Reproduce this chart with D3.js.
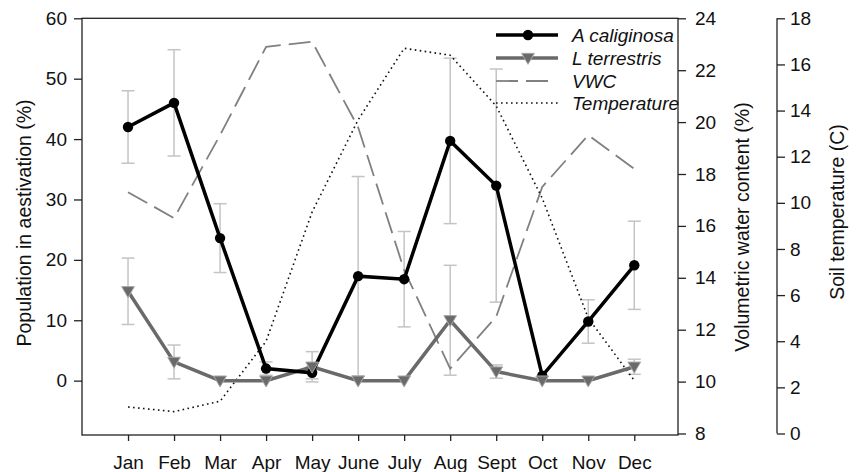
<!DOCTYPE html>
<html>
<head>
<meta charset="utf-8">
<script src="https://cdn.jsdelivr.net/npm/d3@7"></script>
<style>
  html, body { margin: 0; padding: 0; background: #fff; }
  svg { display: block; font-family: "Liberation Sans", Arial, sans-serif; }
</style>
</head>
<body>
<svg id="chart" width="861" height="472"></svg>
<script>
// Monthly aestivation of two earthworm species with soil moisture and temperature
const months = ["Jan", "Feb", "Mar", "Apr", "May", "June", "July", "Aug", "Sept", "Oct", "Nov", "Dec"];
const aCaliginosa = [42, 46, 23.6, 2, 1.3, 17.3, 16.8, 39.7, 32.3, 0.8, 9.8, 19.1];
const aCaliginosaErr = [6, 8.8, 5.7, 1.1, 1, 16.5, 7.9, 13.7, 19.3, 0, 3.6, 7.3];
const lTerrestris = [14.8, 3.1, 0, 0, 2.3, 0, 0, 10, 1.5, 0, 0, 2.3];
const lTerrestrisErr = [5.5, 2.8, 0, 0, 2.5, 0, 0, 9.1, 1.1, 0, 0, 1.25];
const vwc = [17.3, 16.3, 19.5, 22.9, 23.1, 19.8, 14.3, 10.5, 12.5, 17.5, 19.5, 18.2];
const temperature = [1.15, 0.95, 1.4, 4.0, 9.6, 13.6, 16.7, 16.4, 14.2, 10.2, 5.0, 2.3];

const popTicks = [0, 10, 20, 30, 40, 50, 60];
const vwcTicks = [8, 10, 12, 14, 16, 18, 20, 22, 24];
const tempTicks = [0, 2, 4, 6, 8, 10, 12, 14, 16, 18];

const svg = d3.select("#chart");
const box = { left: 82, right: 678, top: 18.3, bottom: 435 };
const idx = months.map((m, i) => i + 1);

const x = d3.scaleLinear().domain([0, 12.95]).range([box.left, box.right]);
const yPop = d3.scaleLinear().domain([-9, 60]).range([box.bottom, box.top]);
const yVwc = d3.scaleLinear().domain([8, 24]).range([433.5, box.top]);
const yTemp = d3.scaleLinear().domain([0, 18]).range([433.5, box.top]);

const fontSize = 19;

// Frame
svg.append("rect")
  .attr("x", box.left).attr("y", box.top)
  .attr("width", box.right - box.left).attr("height", box.bottom - box.top)
  .attr("fill", "none").attr("stroke", "#222").attr("stroke-width", 1.3);

function styleAxis(g) {
  g.select(".domain").remove();
  g.selectAll(".tick line").attr("stroke", "#222").attr("stroke-width", 1.3);
  g.selectAll(".tick text").attr("fill", "#111").style("font-size", fontSize + "px");
}

// Left axis: population
svg.append("g").attr("transform", `translate(${box.left},0)`)
  .call(d3.axisLeft(yPop).tickValues(popTicks).tickSize(8).tickPadding(7))
  .call(styleAxis);

// Bottom axis: months
svg.append("g").attr("transform", `translate(0,${box.bottom})`)
  .call(d3.axisBottom(x).tickValues(idx).tickFormat(d => months[d - 1]).tickSize(6).tickPadding(15))
  .call(styleAxis);

// Right axis: volumetric water content
svg.append("g").attr("transform", `translate(${box.right},0)`)
  .call(d3.axisRight(yVwc).tickValues(vwcTicks).tickSize(8).tickPadding(9))
  .call(styleAxis);

// Offset axis: soil temperature
const tempX = 777;
const tAxis = svg.append("g").attr("transform", `translate(${tempX},0)`)
  .call(d3.axisRight(yTemp).tickValues(tempTicks).tickSize(8).tickPadding(5))
  .call(styleAxis);
tAxis.append("line")
  .attr("x1", 0).attr("x2", 0)
  .attr("y1", yTemp(18)).attr("y2", yTemp(0))
  .attr("stroke", "#222").attr("stroke-width", 1.3);

// Axis titles
function vTitle(cx, cy, text) {
  svg.append("text")
    .attr("transform", `translate(${cx},${cy}) rotate(-90)`)
    .attr("text-anchor", "middle").attr("dy", "0.35em")
    .style("font-size", "19.5px").attr("fill", "#111")
    .text(text);
}
vTitle(24, 223, "Population in aestivation (%)");
vTitle(742, 227, "Volumetric water content (%)");
vTitle(837, 212, "Soil temperature (C)");

// Error bars
const errColor = "#c4c4c4";
function errorBars(vals, errs) {
  const g = svg.append("g").attr("stroke", errColor).attr("stroke-width", 1.5).attr("fill", "none");
  vals.forEach((v, i) => {
    const e = errs[i];
    if (!e) return;
    const cx = x(i + 1), y1 = yPop(v + e), y2 = yPop(v - e);
    g.append("line").attr("x1", cx).attr("x2", cx).attr("y1", y1).attr("y2", y2);
    g.append("line").attr("x1", cx - 6.5).attr("x2", cx + 6.5).attr("y1", y1).attr("y2", y1);
    g.append("line").attr("x1", cx - 6.5).attr("x2", cx + 6.5).attr("y1", y2).attr("y2", y2);
  });
}
errorBars(aCaliginosa, aCaliginosaErr);
errorBars(lTerrestris, lTerrestrisErr);

// Environmental series
const vwcLine = d3.line().x((d, i) => x(i + 1)).y(d => yVwc(d));
svg.append("path").datum(vwc).attr("d", vwcLine)
  .attr("fill", "none").attr("stroke", "#808080").attr("stroke-width", 1.8)
  .attr("stroke-dasharray", "22,8");

const tempLine = d3.line().x((d, i) => x(i + 1)).y(d => yTemp(d));
svg.append("path").datum(temperature).attr("d", tempLine)
  .attr("fill", "none").attr("stroke", "#111").attr("stroke-width", 1.6)
  .attr("stroke-dasharray", "1.6,3.4");

// Species series
const popLine = d3.line().x((d, i) => x(i + 1)).y(d => yPop(d));
const triangle = d3.symbol().type(d3.symbolTriangle).size(70);

svg.append("path").datum(lTerrestris).attr("d", popLine)
  .attr("fill", "none").attr("stroke", "#6a6a6a").attr("stroke-width", 3.5);
svg.append("path").datum(aCaliginosa).attr("d", popLine)
  .attr("fill", "none").attr("stroke", "#000").attr("stroke-width", 3.5);

svg.append("g").selectAll("circle").data(aCaliginosa).join("circle")
  .attr("cx", (d, i) => x(i + 1)).attr("cy", d => yPop(d)).attr("r", 5.2)
  .attr("fill", "#000");
svg.append("g").selectAll("path").data(lTerrestris).join("path")
  .attr("d", triangle)
  .attr("transform", (d, i) => `translate(${x(i + 1)},${yPop(d) - 1}) rotate(180)`)
  .attr("fill", "#6a6a6a").attr("stroke", "#a8a8a8").attr("stroke-width", 1);

// Legend
const legend = svg.append("g");
const lx1 = 496, lx2 = 558, lm = 528, tx = 572;
const rows = [35, 58, 81, 103];
const labels = ["A caliginosa", "L terrestris", "VWC", "Temperature"];
legend.append("line").attr("x1", lx1).attr("x2", lx2).attr("y1", rows[0]).attr("y2", rows[0])
  .attr("stroke", "#000").attr("stroke-width", 3.5);
legend.append("circle").attr("cx", lm).attr("cy", rows[0]).attr("r", 5.2).attr("fill", "#000");
legend.append("line").attr("x1", lx1).attr("x2", lx2).attr("y1", rows[1]).attr("y2", rows[1])
  .attr("stroke", "#6a6a6a").attr("stroke-width", 3.5);
legend.append("path").attr("d", triangle)
  .attr("transform", `translate(${lm},${rows[1] - 1}) rotate(180)`)
  .attr("fill", "#6a6a6a").attr("stroke", "#a8a8a8").attr("stroke-width", 1);
legend.append("line").attr("x1", lx1).attr("x2", 549).attr("y1", rows[2]).attr("y2", rows[2])
  .attr("stroke", "#808080").attr("stroke-width", 1.8).attr("stroke-dasharray", "22,8");
legend.append("line").attr("x1", lx1).attr("x2", lx2).attr("y1", rows[3]).attr("y2", rows[3])
  .attr("stroke", "#111").attr("stroke-width", 1.6).attr("stroke-dasharray", "1.6,3.4");
legend.selectAll("text").data(labels).join("text")
  .attr("x", tx).attr("y", (d, i) => rows[i]).attr("dy", "0.35em")
  .style("font-size", "19px").style("font-style", "italic").attr("fill", "#111")
  .text(d => d);
</script>
</body>
</html>
